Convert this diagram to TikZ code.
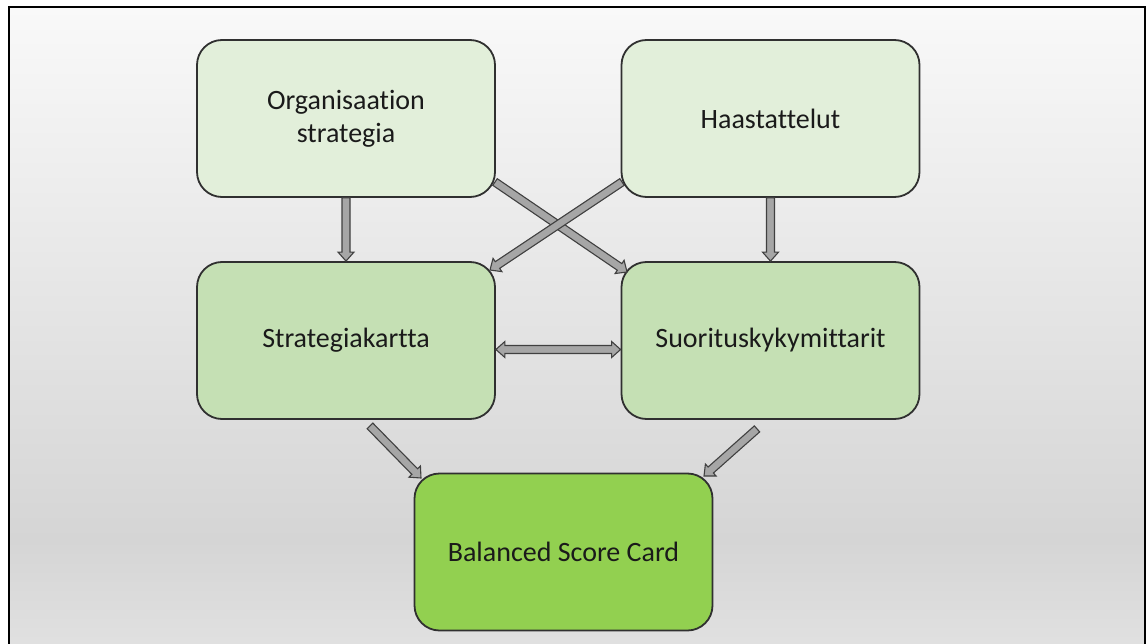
\documentclass[tikz,border=0pt]{standalone}
\usepackage{fontspec}
\setmainfont{Carlito}[Ligatures=NoCommon]
\usetikzlibrary{calc}
\definecolor{paleGreen}{HTML}{E2EFDA}
\definecolor{midGreen}{HTML}{C5E0B4}
\definecolor{strongGreen}{HTML}{92D050}
\definecolor{boxLine}{HTML}{303030}
\definecolor{arrowFill}{HTML}{A6A6A6}
\definecolor{arrowLine}{HTML}{404040}
\definecolor{bgTop}{HTML}{F9F9F9}
\definecolor{bgMid}{HTML}{D5D5D5}
\definecolor{bgLow}{HTML}{E2E2E2}
\definecolor{labelText}{HTML}{1A1A1A}

\tikzset{
  box/.style={draw=boxLine, line width=1.8pt, rounded corners=25pt,
    minimum width=298pt, minimum height=157pt, inner sep=0pt,
    align=center, text=labelText, font=\fontsize{28}{33}\selectfont},
  blockarrow/.style={draw=arrowLine, fill=arrowFill, line width=1.1pt, line join=miter},
}

% single block arrow from #1 to #2
\newcommand\blockArrow[2]{%
  \coordinate (hd) at ($(#2)!9pt!(#1)$);
  \draw[blockarrow] ($(#1)!4pt!90:(#2)$) -- ($(hd)!4pt!90:(#2)$) -- ($(hd)!8pt!90:(#2)$)
    -- (#2) -- ($(hd)!8pt!-90:(#2)$) -- ($(hd)!4pt!-90:(#2)$) -- ($(#1)!4pt!-90:(#2)$) -- cycle;}

% double-headed block arrow between #1 and #2
\newcommand\twinArrow[2]{%
  \coordinate (ha) at ($(#1)!9pt!(#2)$);
  \coordinate (hb) at ($(#2)!9pt!(#1)$);
  \draw[blockarrow] (#1) -- ($(ha)!8pt!90:(#2)$) -- ($(ha)!4pt!90:(#2)$)
    -- ($(hb)!4pt!-90:(#1)$) -- ($(hb)!8pt!-90:(#1)$) -- (#2)
    -- ($(hb)!8pt!90:(#1)$) -- ($(hb)!4pt!90:(#1)$)
    -- ($(ha)!4pt!-90:(#2)$) -- ($(ha)!8pt!-90:(#2)$) -- cycle;}

\begin{document}
\begin{tikzpicture}[x=1pt, y=-1pt]
  \useasboundingbox (0,0) rectangle (1147,644);
  % framed backdrop with vertical gradient
  \shade[top color=bgTop, bottom color=bgMid] (9,7) rectangle (1145,540);
  \shade[top color=bgMid, bottom color=bgLow] (9,540) rectangle (1145,660);
  \draw[line width=1.8pt] (9,660) -- (9,7) -- (1145,7) -- (1145,660);

  % boxes
  \node[box, fill=paleGreen] (org) at (346,118.5) {Organisaation\\strategia};
  \node[box, fill=paleGreen] (haa) at (770.5,118.5) {Haastattelut};
  \node[box, fill=midGreen] (sk) at (346,340.5) {Strategiakartta};
  \node[box, fill=midGreen] (sm) at (770.5,340.5) {Suorituskykymittarit};
  \node[box, fill=strongGreen] (bsc) at (563.5,552) {Balanced Score Card};

  % connector end points
  \coordinate (orgX) at ([shift={(149,63.5)}]org.center);
  \coordinate (smX) at ([shift={(-143.5,-68.5)}]sm.center);
  \coordinate (haaX) at ([shift={(-148.5,63.5)}]haa.center);
  \coordinate (skX) at ([shift={(144,-70.5)}]sk.center);
  \coordinate (skE) at ([yshift=-9pt]sk.east);
  \coordinate (smW) at ([yshift=-9pt]sm.west);
  \coordinate (skB) at ([shift={(24,6)}]sk.south);
  \coordinate (bscL) at ([shift={(-142.5,-74)}]bsc.center);
  \coordinate (smB) at ([shift={(-13.5,9)}]sm.south);
  \coordinate (bscR) at ([shift={(140.5,-76)}]bsc.center);

  % connectors
  \blockArrow{org.south}{sk.north}
  \blockArrow{haa.south}{sm.north}
  \blockArrow{orgX}{smX}
  \blockArrow{haaX}{skX}
  \twinArrow{skE}{smW}
  \blockArrow{skB}{bscL}
  \blockArrow{smB}{bscR}
\end{tikzpicture}
\end{document}
